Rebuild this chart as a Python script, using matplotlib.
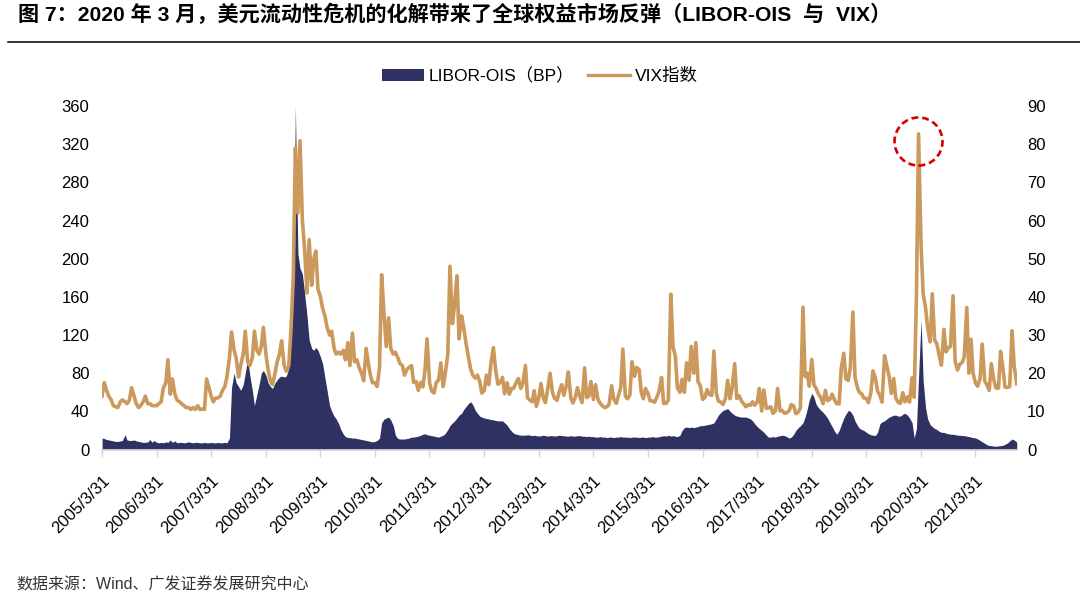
import numpy as np
import pandas as pd
import matplotlib
matplotlib.use('Agg')
import matplotlib.pyplot as plt
from matplotlib.patches import Patch, Ellipse
from matplotlib.lines import Line2D

plt.rcParams['font.family'] = ['Liberation Sans', 'Noto Sans CJK SC']
plt.rcParams['axes.unicode_minus'] = False

# semi-monthly samples (1st and 15th), 2005-04-01 .. 2022-01-01
vix_2005 = [14.0, 17.5, 15.5, 14.0, 13.0, 11.5, 11.2, 11.0, 12.5, 13.0, 12.5, 12.0, 13.0, 16.2, 14.0, 12.0, 11.0, 11.5]
vix_2006 = [12.5, 14.0, 12.0, 12.0, 11.5, 11.5, 11.5, 12.0, 12.5, 16.0, 17.5, 23.5, 14.5, 18.5, 14.5, 13.0, 12.5, 12.0, 11.5, 11.0, 11.0, 10.5, 11.0, 10.5]
vix_2007 = [11.5, 10.5, 10.6, 10.5, 18.5, 16.5, 14.0, 12.5, 13.5, 13.5, 14.0, 15.5, 16.5, 19.0, 24.0, 30.8, 26.0, 24.0, 19.0, 22.0, 25.0, 31.0, 23.0, 22.0]
vix_2008 = [24.0, 31.0, 26.0, 25.0, 27.0, 32.0, 25.0, 21.0, 18.0, 17.0, 20.0, 23.0, 25.0, 28.5, 22.0, 20.5, 22.0, 31.0, 45.0, 79.0, 62.0, 80.9, 60.0, 53.0]
vix_2009 = [41.0, 55.0, 43.0, 50.0, 52.0, 42.0, 40.0, 37.0, 35.0, 32.0, 30.0, 31.0, 26.5, 25.0, 25.5, 25.0, 26.0, 23.5, 28.0, 22.0, 30.5, 23.0, 23.5, 21.5]
vix_2010 = [20.0, 18.0, 26.5, 22.5, 19.5, 17.5, 17.5, 16.5, 21.5, 45.8, 35.0, 27.0, 34.5, 26.5, 25.0, 25.5, 24.0, 22.5, 22.0, 19.5, 21.0, 21.5, 22.0, 17.6]
vix_2011 = [17.8, 15.5, 17.6, 16.4, 20.7, 29.0, 17.4, 15.3, 14.8, 17.5, 18.3, 22.7, 16.5, 20.0, 25.0, 48.0, 33.0, 38.0, 45.5, 29.0, 35.0, 32.0, 27.8, 24.6]
vix_2012 = [21.0, 19.5, 18.7, 19.5, 17.9, 14.8, 15.5, 19.5, 17.0, 22.5, 26.7, 21.1, 17.1, 17.5, 18.9, 14.6, 17.5, 14.5, 16.0, 16.1, 17.6, 18.6, 16.0, 17.4]
vix_2013 = [22.0, 13.6, 12.9, 12.5, 15.4, 11.3, 13.6, 17.3, 13.5, 12.3, 16.3, 20.0, 15.0, 13.4, 12.9, 15.1, 17.0, 14.2, 16.6, 20.3, 13.5, 12.2, 13.7, 16.2]
vix_2014 = [13.8, 12.3, 21.4, 13.6, 14.0, 17.8, 13.1, 17.0, 13.2, 12.2, 11.4, 11.0, 11.2, 11.9, 16.7, 13.2, 12.1, 14.1, 16.3, 26.3, 14.0, 13.3, 14.3, 23.0]
vix_2015 = [19.2, 21.5, 20.9, 15.0, 13.3, 16.0, 14.7, 12.8, 12.7, 12.4, 13.8, 15.4, 18.9, 12.1, 12.1, 13.0, 40.7, 27.0, 24.5, 16.1, 15.0, 18.4, 15.0, 22.7]
vix_2016 = [18.2, 27.0, 20.0, 28.0, 17.7, 16.9, 13.1, 13.6, 15.7, 14.4, 14.2, 25.8, 14.8, 12.7, 12.4, 11.8, 13.4, 18.1, 13.3, 16.1, 22.5, 13.4, 14.1, 12.8]
vix_2017 = [11.9, 11.2, 11.8, 11.6, 12.5, 11.6, 12.4, 16.0, 10.1, 15.6, 10.8, 10.9, 11.2, 9.5, 10.1, 16.0, 10.1, 10.2, 9.5, 9.6, 10.2, 11.8, 11.4, 9.4]
vix_2018 = [9.8, 11.0, 37.3, 19.1, 20.0, 16.6, 23.6, 17.0, 15.9, 14.6, 13.5, 12.0, 15.5, 12.8, 13.2, 14.5, 12.9, 12.0, 12.0, 21.3, 25.2, 18.5, 18.1, 21.6]
vix_2019 = [36.0, 19.0, 16.1, 14.9, 14.6, 13.5, 13.4, 12.3, 14.8, 20.6, 18.7, 15.3, 14.1, 12.4, 24.6, 22.1, 19.0, 14.7, 18.6, 13.5, 12.3, 12.1, 14.9, 12.5]
vix_2020 = [13.8, 12.4, 18.8, 13.7, 40.1, 82.7, 53.5, 40.8, 37.2, 31.9, 28.2, 40.8, 28.6, 27.8, 24.5, 22.1, 31.5, 25.6, 26.7, 27.0, 40.3, 23.1, 20.8, 22.3]
vix_2021 = [22.8, 24.3, 37.2, 20.0, 28.9, 20.0, 17.3, 16.6, 18.6, 27.6, 17.9, 17.0, 15.5, 22.5, 18.2, 16.1, 16.1, 25.7, 21.2, 16.3, 16.3, 16.5, 31.1, 21.9]
vix_2022 = [17.2]

libor_2005 = [12.0, 11.5, 10.5, 10.0, 9.5, 9.0, 8.5, 8.5, 9.0, 9.5, 15.5, 10.0, 9.5, 9.5, 10.0, 9.0, 8.5, 8.0]
libor_2006 = [7.5, 7.5, 8.0, 10.5, 7.5, 9.5, 7.5, 7.0, 7.5, 7.0, 8.0, 7.5, 10.0, 7.5, 9.0, 7.0, 7.5, 7.5, 7.0, 7.5, 8.0, 7.5, 7.0, 7.5]
libor_2007 = [7.5, 7.0, 7.0, 7.5, 7.0, 7.0, 7.5, 7.0, 7.0, 7.5, 7.0, 7.0, 7.5, 7.0, 12.0, 65.0, 80.0, 70.0, 66.0, 62.0, 68.0, 80.0, 95.0, 78.0]
libor_2008 = [62.0, 46.0, 58.0, 68.0, 80.0, 83.0, 78.0, 70.0, 66.0, 64.0, 70.0, 73.0, 76.0, 77.0, 76.0, 77.0, 85.0, 128.0, 170.0, 359.0, 205.0, 190.0, 184.0, 165.0]
libor_2009 = [140.0, 115.0, 106.0, 104.0, 107.0, 104.0, 97.0, 90.0, 75.0, 62.0, 46.0, 40.0, 35.0, 32.0, 27.0, 21.0, 16.0, 13.5, 12.5, 12.5, 12.0, 12.0, 11.5, 11.0]
libor_2010 = [10.5, 10.0, 9.5, 9.0, 8.5, 8.0, 8.5, 9.5, 12.0, 28.0, 32.0, 33.0, 34.0, 31.0, 25.0, 15.0, 11.5, 11.0, 11.0, 11.0, 11.5, 12.0, 13.0, 13.0]
libor_2011 = [13.5, 14.0, 15.0, 16.0, 16.5, 15.5, 15.0, 14.5, 14.0, 13.5, 13.0, 14.0, 15.0, 17.0, 21.0, 25.0, 28.0, 30.0, 33.0, 36.0, 38.0, 42.0, 45.0, 48.0]
libor_2012 = [50.0, 47.0, 41.0, 38.0, 35.0, 34.0, 33.0, 32.5, 32.0, 31.5, 31.0, 30.5, 30.0, 30.0, 30.0, 28.0, 25.5, 22.0, 19.0, 17.0, 16.0, 15.5, 15.0, 15.0]
libor_2013 = [15.0, 15.5, 15.0, 14.5, 15.0, 14.5, 14.0, 14.5, 15.0, 14.5, 14.0, 14.5, 14.5, 14.0, 14.5, 15.0, 14.5, 14.5, 14.0, 14.0, 14.5, 14.0, 14.0, 14.5]
libor_2014 = [14.5, 14.0, 14.0, 13.5, 14.0, 13.5, 13.5, 13.0, 13.0, 13.5, 13.0, 13.0, 12.5, 13.0, 13.0, 12.5, 13.0, 13.0, 13.5, 13.0, 13.0, 13.0, 12.5, 13.0]
libor_2015 = [13.0, 13.0, 12.5, 13.0, 13.0, 12.5, 13.0, 13.0, 13.5, 13.0, 13.0, 13.5, 14.0, 14.5, 14.0, 15.0, 14.0, 14.5, 14.0, 13.5, 15.0, 20.0, 23.0, 23.5]
libor_2016 = [23.0, 23.5, 23.0, 23.5, 24.0, 25.0, 25.0, 25.5, 26.0, 26.5, 27.0, 28.0, 32.0, 36.0, 39.0, 41.0, 42.0, 43.0, 40.0, 38.0, 36.0, 35.0, 34.5, 34.0]
libor_2017 = [34.0, 34.0, 33.0, 32.0, 30.0, 27.0, 24.0, 22.0, 20.0, 18.0, 15.0, 13.0, 13.0, 13.5, 13.0, 14.0, 14.5, 15.0, 14.5, 13.5, 12.0, 13.0, 16.0, 20.0]
libor_2018 = [23.0, 25.0, 28.0, 34.0, 42.0, 52.0, 59.0, 55.0, 47.0, 44.0, 41.0, 39.0, 36.0, 33.0, 28.0, 24.0, 19.0, 16.0, 20.0, 26.0, 33.0, 37.0, 41.0, 40.0]
libor_2019 = [36.0, 30.0, 25.0, 22.0, 21.0, 20.0, 18.0, 16.5, 15.5, 15.0, 14.7, 18.0, 27.0, 29.0, 30.0, 32.0, 34.0, 35.0, 36.0, 36.0, 35.0, 35.0, 37.0, 38.0]
libor_2020 = [36.0, 33.0, 28.0, 12.0, 22.0, 75.0, 136.0, 72.0, 44.0, 32.0, 26.0, 24.0, 22.0, 21.0, 19.0, 18.0, 18.0, 17.0, 16.5, 16.0, 16.0, 15.5, 15.0, 15.0]
libor_2021 = [14.7, 14.5, 14.0, 13.5, 13.0, 12.5, 12.0, 11.0, 9.5, 8.0, 6.5, 5.0, 4.2, 4.0, 3.5, 3.5, 3.8, 4.0, 4.5, 5.5, 7.0, 9.0, 11.0, 10.0]
libor_2022 = [7.7]

tick_labels = ['2005/3/31', '2006/3/31', '2007/3/31', '2008/3/31', '2009/3/31', '2010/3/31',
               '2011/3/31', '2012/3/31', '2013/3/31', '2014/3/31', '2015/3/31', '2016/3/31',
               '2017/3/31', '2018/3/31', '2019/3/31', '2020/3/31', '2021/3/31']

title = '图 7：2020 年 3 月，美元流动性危机的化解带来了全球权益市场反弹（LIBOR-OIS  与  VIX）'
source = '数据来源：Wind、广发证券发展研究中心'

navy = '#2e3162'
tan = '#cc995c'
axis_grey = '#d4d4d4'

vix = np.concatenate([vix_2005, vix_2006, vix_2007, vix_2008, vix_2009, vix_2010, vix_2011,
                      vix_2012, vix_2013, vix_2014, vix_2015, vix_2016, vix_2017, vix_2018,
                      vix_2019, vix_2020, vix_2021, vix_2022])
libor = np.concatenate([libor_2005, libor_2006, libor_2007, libor_2008, libor_2009, libor_2010,
                        libor_2011, libor_2012, libor_2013, libor_2014, libor_2015, libor_2016,
                        libor_2017, libor_2018, libor_2019, libor_2020, libor_2021, libor_2022])
dates = pd.date_range('2005-04-01', '2022-01-01', freq='SMS')
assert len(dates) == len(vix) == len(libor), (len(dates), len(vix), len(libor))

fig = plt.figure(figsize=(10.8, 5.95), dpi=100)
ax = fig.add_axes([0.0944, 0.2445, 0.8477, 0.5773])
ax2 = ax.twinx()

ax.fill_between(dates, libor, 0, color=navy, lw=0)
ax2.plot(dates, vix, color=tan, lw=2.6, solid_joinstyle='round')

# red dashed circle round the 2020 VIX peak
i_peak = int(np.argmax(vix))
ax2.add_patch(Ellipse((matplotlib.dates.date2num(dates[i_peak]), vix[i_peak] - 2),
                      width=321, height=12.6, fill=False, edgecolor='#d40000',
                      lw=1.9, linestyle=(0, (2.6, 1.5)), zorder=5))

ax.set_xlim(pd.Timestamp('2005-03-31'), pd.Timestamp('2022-01-06'))
ax.set_ylim(0, 360)
ax2.set_ylim(0, 90)
ax.set_yticks(np.arange(0, 361, 40))
ax2.set_yticks(np.arange(0, 91, 10))

tick_dates = [pd.Timestamp(s.replace('/', '-')) for s in tick_labels]
ax.set_xticks(tick_dates)
ax.set_xticklabels(tick_labels, rotation=45, ha='right', rotation_mode='anchor', fontsize=12)

for a in (ax, ax2):
    for s in ('top', 'left', 'right'):
        a.spines[s].set_visible(False)
ax.spines['bottom'].set_color(axis_grey)
ax.spines['bottom'].set_linewidth(1.3)
ax2.spines['bottom'].set_visible(False)

ax.tick_params(axis='x', length=5, width=1, color=axis_grey, pad=12)
ax.tick_params(axis='y', length=0, pad=9, labelsize=12)
ax2.tick_params(axis='y', length=0, pad=7, labelsize=12)

handles = [Patch(facecolor=navy, edgecolor='none'), Line2D([], [], color=tan, lw=2.4)]
fig.legend(handles, ['LIBOR-OIS（BP）', 'VIX指数'], loc='center', bbox_to_anchor=(0.5, 0.872),
           ncol=2, frameon=False, fontsize=12.5, handlelength=2.4, handleheight=0.7,
           handletextpad=0.3, columnspacing=0.8)

fig.text(18 / 1080, 1 - 14 / 595, title, ha='left', va='center', fontsize=15.2, fontweight='bold')
fig.add_artist(Line2D([8 / 1080, 1.0], [1 - 41.5 / 595] * 2, color='black', lw=1.1))
fig.text(16 / 1080, 1 - 585 / 595, source, ha='left', va='center', fontsize=11.5, color='#333333')

fig.savefig('out.png', dpi=100)
